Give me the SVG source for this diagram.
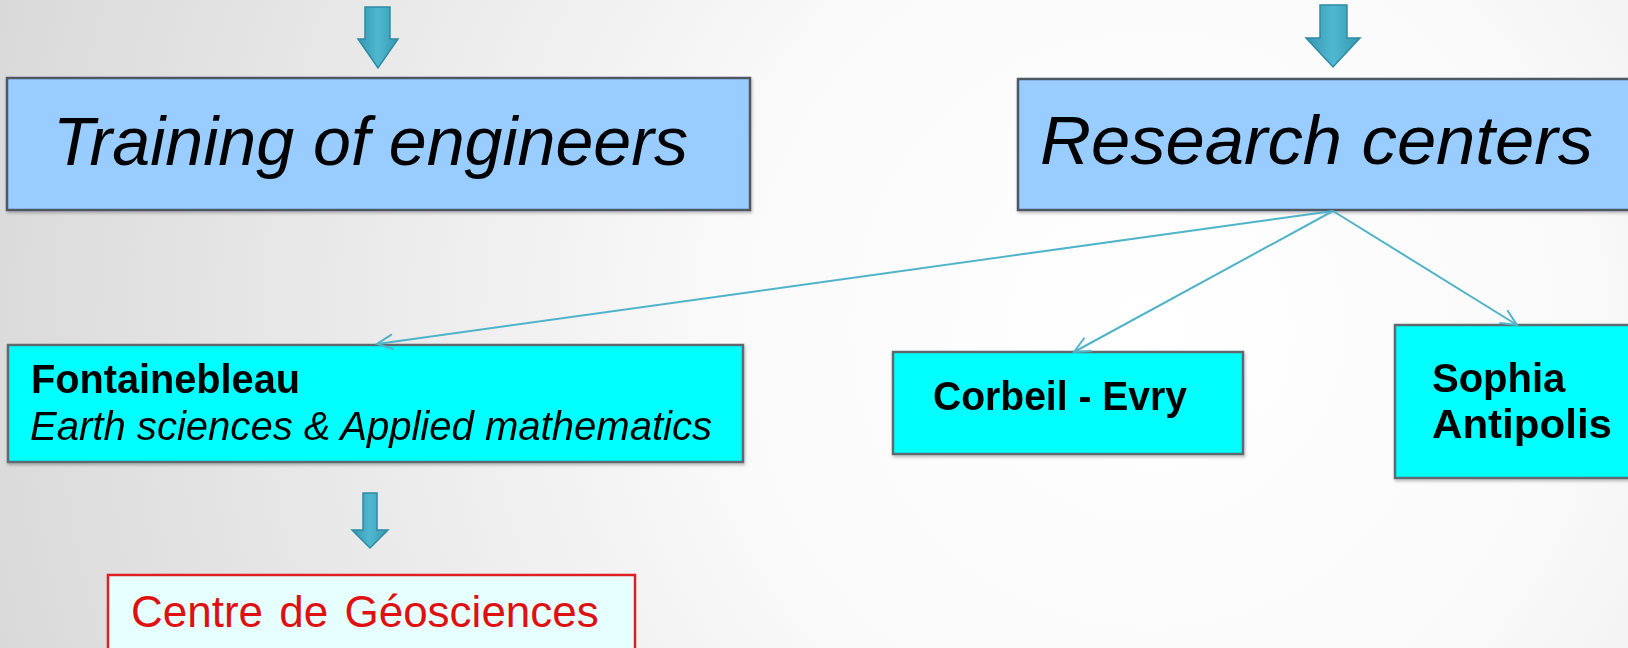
<svg xmlns="http://www.w3.org/2000/svg" width="1628" height="648" viewBox="0 0 1628 648">
  <defs>
    <radialGradient id="bg" cx="1150" cy="330" r="1200" gradientUnits="userSpaceOnUse">
      <stop offset="0" stop-color="#ffffff"/>
      <stop offset="0.35" stop-color="#fafafa"/>
      <stop offset="1" stop-color="#d9d9d9"/>
    </radialGradient>
    <linearGradient id="blockArrow" x1="0" y1="0" x2="1" y2="0">
      <stop offset="0" stop-color="#3597b0"/>
      <stop offset="0.5" stop-color="#4fb8d0"/>
      <stop offset="1" stop-color="#3597b0"/>
    </linearGradient>
    <marker id="openHead" viewBox="0 0 20 20" markerUnits="userSpaceOnUse" markerWidth="20" markerHeight="20" refX="18" refY="10" orient="auto">
      <path d="M2,2.5 L18,10 L2,17.5" fill="none" stroke="#4fb3c9" stroke-width="2"/>
    </marker>
    <filter id="shadow" x="-5%" y="-5%" width="110%" height="115%">
      <feDropShadow dx="1" dy="2" stdDeviation="1.5" flood-color="#000" flood-opacity="0.25"/>
    </filter>
  </defs>
  <style>
    .title { fill: #99ccff; stroke: #4d5864; stroke-width: 2.5; }
    .site { fill: #00ffff; stroke: #5f6b70; stroke-width: 2.5; }
    .lab { fill: #e6ffff; stroke: #e02020; stroke-width: 2.5; }
    .big { font-family: "Liberation Sans", Arial, sans-serif; font-style: italic; font-size: 68px; fill: #000; }
    .bold { font-family: "Liberation Sans", Arial, sans-serif; font-weight: bold; font-size: 40px; fill: #000; }
    .ital { font-family: "Liberation Sans", Arial, sans-serif; font-style: italic; font-size: 40px; fill: #000; }
    .red { font-family: "Liberation Sans", Arial, sans-serif; font-size: 44px; word-spacing: 4px; fill: #e01010; }
    .block { fill: url(#blockArrow); stroke: #2f8aa3; stroke-width: 1.5; }
    .link { fill: none; stroke: #4fb3c9; stroke-width: 2; marker-end: url(#openHead); }
  </style>

  <rect width="1628" height="648" fill="url(#bg)"/>

  <!-- block arrows feeding the two top boxes and the lab -->
  <g id="flow-arrows">
    <path class="block" d="M365,7 H390 V39 H398 L378,68 L358,39 H365 Z"/>
    <path class="block" d="M1320,5 H1347 V38 H1360 L1333,67 L1306,38 H1320 Z"/>
    <path class="block" d="M363,493 H377 V530 H388 L370,548 L352,530 H363 Z"/>
  </g>

  <g id="training" filter="url(#shadow)">
    <rect class="title" x="7" y="78" width="743" height="132"/>
    <text class="big" x="53" y="165" textLength="635" lengthAdjust="spacingAndGlyphs">Training of engineers</text>
  </g>

  <g id="research" filter="url(#shadow)">
    <rect class="title" x="1018" y="79" width="630" height="131"/>
    <text class="big" x="1040" y="164" textLength="553" lengthAdjust="spacingAndGlyphs">Research centers</text>
  </g>

  <g id="fontainebleau" filter="url(#shadow)">
    <rect class="site" x="8" y="345" width="735" height="117"/>
    <text class="bold" x="31" y="393" textLength="269" lengthAdjust="spacingAndGlyphs">Fontainebleau</text>
    <text class="ital" x="30" y="440" textLength="682" lengthAdjust="spacingAndGlyphs">Earth sciences &amp; Applied mathematics</text>
  </g>

  <g id="corbeil" filter="url(#shadow)">
    <rect class="site" x="893" y="352" width="350" height="102"/>
    <text class="bold" x="933" y="410" textLength="254" lengthAdjust="spacingAndGlyphs">Corbeil - Evry</text>
  </g>

  <g id="sophia" filter="url(#shadow)">
    <rect class="site" x="1395" y="325" width="250" height="153"/>
    <text class="bold" x="1432" y="392">Sophia</text>
    <text class="bold" x="1432" y="438" textLength="180" lengthAdjust="spacingAndGlyphs">Antipolis</text>
  </g>

  <g id="geosciences">
    <rect class="lab" x="108" y="575" width="527" height="90"/>
    <text class="red" x="131" y="627">Centre de Géosciences</text>
  </g>

  <!-- connectors from the research box to each site -->
  <g id="connectors">
    <line class="link" x1="1333" y1="211" x2="377" y2="344" stroke-width="3"/>
    <line class="link" x1="1333" y1="211" x2="1074" y2="352"/>
    <line class="link" x1="1333" y1="211" x2="1517" y2="325"/>
  </g>
</svg>
